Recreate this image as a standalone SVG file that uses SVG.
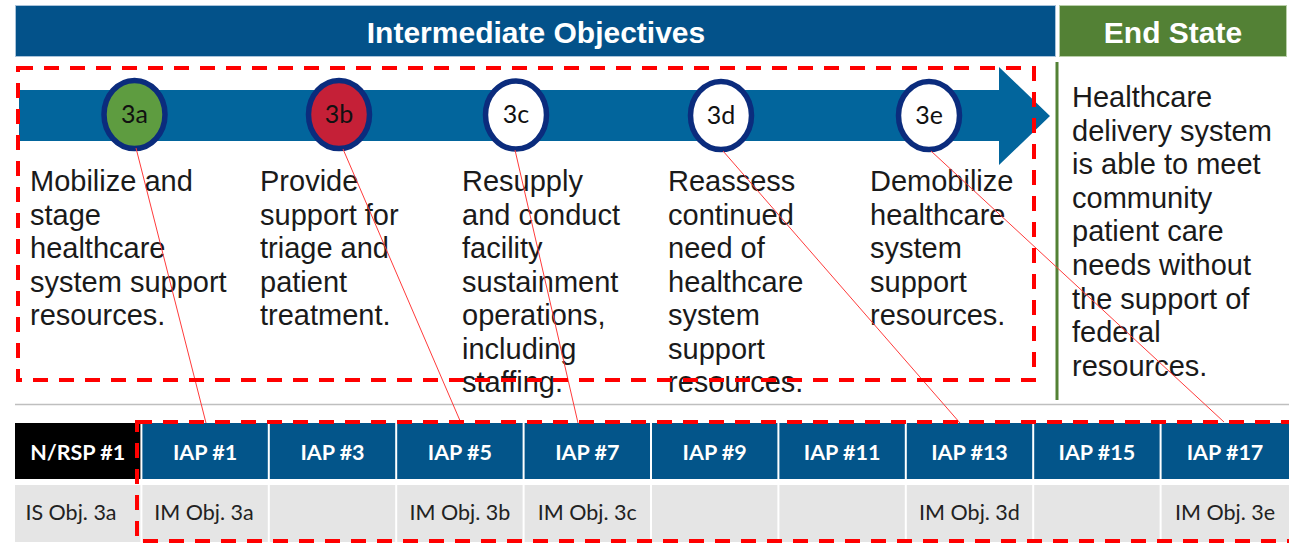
<svg xmlns="http://www.w3.org/2000/svg" width="1289" height="543" viewBox="0 0 1289 543">
<style>
.hdr{font-family:"Liberation Sans",Arial,sans-serif;font-weight:bold;font-size:30px;fill:#ffffff;text-anchor:middle}
.body{font-family:"Liberation Sans",Arial,sans-serif;font-size:29px;fill:#1a1a1a}
.lbl{font-family:Lato,"Open Sans",sans-serif;font-size:25px;fill:#111;text-anchor:middle}
.th{font-family:Lato,"Open Sans",sans-serif;font-weight:bold;font-size:21.5px;fill:#ffffff;text-anchor:middle}
.td{font-family:Lato,"Open Sans",sans-serif;font-size:21.5px;fill:#222;text-anchor:middle}
.ring{stroke:#0b2c7d;stroke-width:5.5}
.hcell{fill:#03558a}
.dcell{fill:#e5e5e5}
.dash{fill:none;stroke:#ff0000;stroke-width:4;stroke-dasharray:15 11}
.conn{stroke:#ff3b3b;stroke-width:1;fill:none}
</style>
<rect width="1289" height="543" fill="#ffffff"/>
<g id="header-intermediate">
<rect x="15.5" y="5.5" width="1040" height="51" fill="#03528a" stroke="#a9c3da" stroke-width="1"/>
<text class="hdr" x="536" y="43">Intermediate Objectives</text>
</g>
<g id="header-endstate">
<rect x="1059.5" y="5.5" width="227" height="51" fill="#538135" stroke="#b9cfa9" stroke-width="1"/>
<text class="hdr" x="1173" y="43">End State</text>
</g>
<g id="arrow">
<polygon points="19,90 999,90 999,67 1050,116 999,165 999,141 19,141" fill="#02659c"/>
</g>
<line x1="1057" y1="62" x2="1057" y2="400" stroke="#538135" stroke-width="3"/>
<line x1="15" y1="404.5" x2="1289" y2="404.5" stroke="#bfbfbf" stroke-width="1.5"/>
<g id="obj-3a">
<ellipse class="ring" cx="134.5" cy="114.5" rx="30.5" ry="34" fill="#5e9c40"/>
<text class="lbl" x="134.5" y="122.5">3a</text>
<text class="body" x="30"><tspan x="30" y="191">Mobilize and</tspan><tspan x="30" y="224.5">stage</tspan><tspan x="30" y="258">healthcare</tspan><tspan x="30" y="291.5">system support</tspan><tspan x="30" y="325">resources.</tspan></text>
</g>
<g id="obj-3b">
<ellipse class="ring" cx="339" cy="114.5" rx="30.5" ry="34" fill="#c52037"/>
<text class="lbl" x="339" y="122.5">3b</text>
<text class="body"><tspan x="260" y="191">Provide</tspan><tspan x="260" y="224.5">support for</tspan><tspan x="260" y="258">triage and</tspan><tspan x="260" y="291.5">patient</tspan><tspan x="260" y="325">treatment.</tspan></text>
</g>
<g id="obj-3c">
<ellipse class="ring" cx="516" cy="115" rx="30.5" ry="34" fill="#ffffff"/>
<text class="lbl" x="516" y="123">3c</text>
<text class="body"><tspan x="462" y="191">Resupply</tspan><tspan x="462" y="224.5">and conduct</tspan><tspan x="462" y="258">facility</tspan><tspan x="462" y="291.5">sustainment</tspan><tspan x="462" y="325">operations,</tspan><tspan x="462" y="358.5">including</tspan><tspan x="462" y="392">staffing.</tspan></text>
</g>
<g id="obj-3d">
<ellipse class="ring" cx="721" cy="115.5" rx="30.5" ry="34" fill="#ffffff"/>
<text class="lbl" x="721" y="123.5">3d</text>
<text class="body"><tspan x="668" y="191">Reassess</tspan><tspan x="668" y="224.5">continued</tspan><tspan x="668" y="258">need of</tspan><tspan x="668" y="291.5">healthcare</tspan><tspan x="668" y="325">system</tspan><tspan x="668" y="358.5">support</tspan><tspan x="668" y="392">resources.</tspan></text>
</g>
<g id="obj-3e">
<ellipse class="ring" cx="929" cy="115.5" rx="30.5" ry="34" fill="#ffffff"/>
<text class="lbl" x="929" y="123.5">3e</text>
<text class="body"><tspan x="870" y="191">Demobilize</tspan><tspan x="870" y="224.5">healthcare</tspan><tspan x="870" y="258">system</tspan><tspan x="870" y="291.5">support</tspan><tspan x="870" y="325">resources.</tspan></text>
</g>
<g id="end-state">
<text class="body"><tspan x="1072" y="107">Healthcare</tspan><tspan x="1072" y="140.6">delivery system</tspan><tspan x="1072" y="174.2">is able to meet</tspan><tspan x="1072" y="207.8">community</tspan><tspan x="1072" y="241.4">patient care</tspan><tspan x="1072" y="275">needs without</tspan><tspan x="1072" y="308.6">the support of</tspan><tspan x="1072" y="342.2">federal</tspan><tspan x="1072" y="375.8">resources.</tspan></text>
</g>
<g id="table">
<g id="col-nrsp1"><rect x="15" y="423" width="125.4" height="56" fill="#000000"/><text class="th" x="77.7" y="460">N/RSP #1</text><rect x="15" y="485" width="125.4" height="57" class="dcell"/><text class="td" x="71" y="520">IS Obj. 3a</text></g>
<g id="col-iap1"><rect x="142.4" y="423" width="125.4" height="56" class="hcell"/><text class="th" x="205.1" y="460">IAP #1</text><rect x="142.4" y="485" width="125.4" height="57" class="dcell"/><text class="td" x="204" y="520">IM Obj. 3a</text></g>
<g id="col-iap3"><rect x="269.8" y="423" width="125.4" height="56" class="hcell"/><text class="th" x="332.5" y="460">IAP #3</text><rect x="269.8" y="485" width="125.4" height="57" class="dcell"/></g>
<g id="col-iap5"><rect x="397.2" y="423" width="125.4" height="56" class="hcell"/><text class="th" x="459.9" y="460">IAP #5</text><rect x="397.2" y="485" width="125.4" height="57" class="dcell"/><text class="td" x="459.9" y="520">IM Obj. 3b</text></g>
<g id="col-iap7"><rect x="524.6" y="423" width="125.4" height="56" class="hcell"/><text class="th" x="587.3" y="460">IAP #7</text><rect x="524.6" y="485" width="125.4" height="57" class="dcell"/><text class="td" x="587.3" y="520">IM Obj. 3c</text></g>
<g id="col-iap9"><rect x="652" y="423" width="125.4" height="56" class="hcell"/><text class="th" x="714.7" y="460">IAP #9</text><rect x="652" y="485" width="125.4" height="57" class="dcell"/></g>
<g id="col-iap11"><rect x="779.4" y="423" width="125.4" height="56" class="hcell"/><text class="th" x="842.1" y="460">IAP #11</text><rect x="779.4" y="485" width="125.4" height="57" class="dcell"/></g>
<g id="col-iap13"><rect x="906.8" y="423" width="125.4" height="56" class="hcell"/><text class="th" x="969.5" y="460">IAP #13</text><rect x="906.8" y="485" width="125.4" height="57" class="dcell"/><text class="td" x="969.5" y="520">IM Obj. 3d</text></g>
<g id="col-iap15"><rect x="1034.2" y="423" width="125.4" height="56" class="hcell"/><text class="th" x="1096.9" y="460">IAP #15</text><rect x="1034.2" y="485" width="125.4" height="57" class="dcell"/></g>
<g id="col-iap17"><rect x="1161.6" y="423" width="127.4" height="56" class="hcell"/><text class="th" x="1225" y="460">IAP #17</text><rect x="1161.6" y="485" width="127.4" height="57" class="dcell"/><text class="td" x="1225" y="520">IM Obj. 3e</text></g>
</g>
<g id="connectors">
<line class="conn" x1="136" y1="148" x2="206" y2="423"/>
<line class="conn" x1="343" y1="149" x2="461" y2="423"/>
<line class="conn" x1="515" y1="150" x2="578" y2="423"/>
<line class="conn" x1="723" y1="151" x2="960" y2="423"/>
<line class="conn" x1="931" y1="151" x2="1224" y2="422"/>
</g>
<g id="highlight-boxes">
<rect class="dash" x="18" y="68" width="1016" height="312"/>
<rect class="dash" x="137" y="422" width="1160" height="119" stroke-dasharray="15 12"/>
</g>
</svg>
